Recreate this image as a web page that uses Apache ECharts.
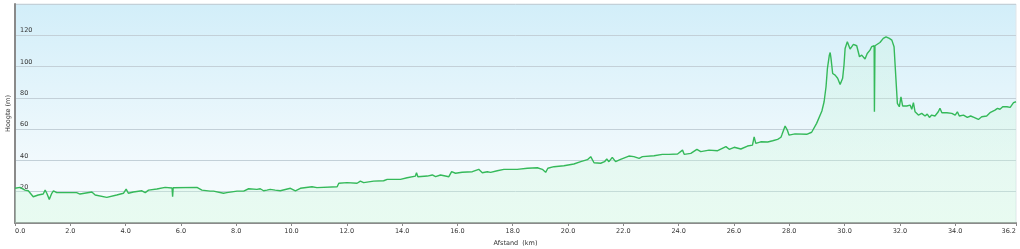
<!DOCTYPE html>
<html>
<head>
<meta charset="utf-8">
<script src="https://cdn.jsdelivr.net/npm/echarts@6/dist/echarts.min.js"></script>
<style>html,body{margin:0;padding:0;background:#fff}#c{width:1020px;height:249px}</style>
</head>
<body>
<div id="c"></div>
<script>
var distanceKm = [0.00,0.18,0.36,0.48,0.54,0.66,0.84,1.02,1.09,1.15,1.24,1.33,1.39,1.51,2.23,2.35,2.78,2.90,3.32,3.68,3.92,4.02,4.10,4.28,4.59,4.71,4.83,5.13,5.43,5.49,5.68,5.70,5.72,6.58,6.76,7.06,7.18,7.54,7.66,8.03,8.27,8.45,8.75,8.87,8.99,9.11,9.23,9.41,9.59,9.96,10.14,10.32,10.74,10.92,11.65,11.71,12.01,12.37,12.49,12.61,12.97,13.33,13.46,13.94,14.18,14.48,14.52,14.57,14.91,15.09,15.21,15.39,15.69,15.79,15.93,16.17,16.54,16.77,16.90,17.08,17.20,17.44,17.68,18.16,18.53,18.89,19.07,19.19,19.27,19.49,19.85,20.21,20.46,20.70,20.82,20.94,21.18,21.32,21.40,21.48,21.60,21.72,21.90,22.20,22.38,22.57,22.69,23.11,23.41,23.65,23.96,24.14,24.20,24.44,24.66,24.80,25.10,25.41,25.71,25.83,26.01,26.25,26.49,26.67,26.73,26.79,26.97,27.22,27.40,27.58,27.70,27.73,27.85,27.93,27.99,28.21,28.63,28.81,28.99,29.18,29.26,29.33,29.38,29.45,29.48,29.51,29.57,29.66,29.75,29.84,29.93,29.98,30.02,30.10,30.15,30.20,30.32,30.44,30.54,30.62,30.74,30.82,30.92,30.98,31.07,31.08,31.10,31.28,31.40,31.50,31.62,31.71,31.79,31.85,31.91,31.98,32.04,32.10,32.25,32.37,32.43,32.49,32.55,32.67,32.79,32.91,32.99,33.07,33.15,33.27,33.39,33.45,33.52,33.70,33.88,34.00,34.08,34.15,34.30,34.44,34.56,34.68,34.84,34.96,35.14,35.26,35.44,35.53,35.62,35.72,35.87,35.99,36.11,36.20];
var elevationM = [22.2,22.8,21.0,20.6,20.0,16.8,17.9,18.5,21.0,19.0,15.1,19.0,20.6,19.4,19.4,18.5,19.8,17.9,16.4,17.9,19.0,21.7,19.0,19.8,20.6,19.4,21.0,21.7,22.8,22.2,22.4,16.8,22.5,22.8,21.0,20.4,20.4,19.0,19.4,20.4,20.4,21.9,21.5,21.9,20.6,21.0,21.5,21.0,20.6,22.2,20.6,22.2,23.2,22.6,23.2,25.4,25.8,25.4,26.8,25.8,26.8,27.0,27.9,27.9,28.9,30.0,32.1,29.6,30.0,30.7,29.6,30.7,29.6,32.8,31.8,32.4,32.8,34.3,32.1,32.8,32.4,33.4,34.3,34.3,35.0,35.3,34.3,32.4,35.0,36.0,36.6,37.7,39.2,40.5,42.4,38.5,38.2,39.2,40.9,39.2,42.0,39.2,40.7,42.8,42.4,41.3,42.4,43.0,43.9,43.9,44.1,46.6,43.9,44.5,47.1,45.6,46.6,46.2,48.8,47.1,48.4,47.3,49.2,49.8,55.1,50.9,51.9,51.8,52.6,53.5,54.8,56.2,62.0,59.4,56.2,57.0,56.7,58.0,63.7,71.6,77.5,87.1,98.8,107.3,109.0,105.2,95.6,94.5,92.5,88.6,92.5,101.0,111.6,115.9,116.9,111.2,114.2,113.3,106.3,107.3,104.8,108.4,110.5,112.7,113.3,71.1,113.3,115.4,118.0,119.0,118.0,116.9,112.7,94.5,76.5,74.3,80.7,74.8,74.8,75.4,72.7,76.9,71.1,69.0,70.1,68.4,69.6,67.5,69.0,68.4,71.1,73.3,70.5,70.5,70.1,69.0,71.1,68.4,69.0,67.5,68.4,67.5,66.2,67.9,68.4,70.5,72.2,73.3,72.7,74.3,74.3,73.9,76.9,77.5];
var xTickValues = [0,2,4,6,8,10,12,14,16,18,20,22,24,26,28,30,32,34,36.2];
var yTickValues = [20,40,60,80,100,120];

var seriesData = distanceKm.map(function (d, i) { return [d, elevationM[i]]; });
var font = 'DejaVu Sans';
var chart = echarts.init(document.getElementById('c'));
chart.setOption({
  animation: false,
  grid: {
    left: 15, right: 4, top: 4, bottom: 26,
    outerBoundsMode: 'none', containLabel: false,
    show: true,
    borderColor: '#dfe6ea', borderWidth: 1,
    backgroundColor: {
      type: 'linear', x: 0, y: 0, x2: 0, y2: 1,
      colorStops: [{ offset: 0, color: '#d2eef9' }, { offset: 0.75, color: '#f3fafd' }, { offset: 1, color: '#f7fcfd' }]
    }
  },
  xAxis: {
    type: 'value', min: 0, max: 36.2,
    name: 'Afstand  (km)', nameLocation: 'middle', nameGap: 17,
    nameTextStyle: { fontFamily: font, fontSize: 6.5, color: '#333' },
    axisLine: { lineStyle: { color: '#8a8a8a', width: 2 } },
    axisTick: { show: true, length: 3, customValues: xTickValues, lineStyle: { color: '#8a8a8a' } },
    axisLabel: {
      customValues: xTickValues, fontFamily: font, fontSize: 6.5, color: '#333', margin: 5,
      alignMinLabel: 'left', alignMaxLabel: 'right',
      formatter: function (v) { return v.toFixed(1); }
    },
    splitLine: { show: false }
  },
  yAxis: {
    type: 'value', min: 0, max: 140, interval: 20,
    name: 'Hoogte (m)', nameLocation: 'middle', nameGap: 3, nameRotate: 90,
    nameMoveOverlap: false,
    nameTextStyle: { fontFamily: font, fontSize: 6.5, color: '#333' },
    axisLine: { show: true, lineStyle: { color: '#8a8a8a', width: 2 } },
    axisTick: { show: false },
    axisLabel: {
      inside: true, customValues: yTickValues, fontFamily: font, fontSize: 6.5, color: '#333',
      margin: 5, verticalAlign: 'bottom', padding: [0, 0, 1, 0]
    },
    splitLine: { lineStyle: { color: '#c3d0d8', width: 1 } }
  },
  series: [{
    type: 'line', data: seriesData, symbol: 'none', smooth: false,
    lineStyle: { color: '#35b95a', width: 1.4 },
    areaStyle: {
      color: {
        type: 'linear', x: 0, y: 0, x2: 0, y2: 1,
        colorStops: [{ offset: 0, color: 'rgba(200,245,215,0.35)' }, { offset: 1, color: 'rgba(200,248,215,0.45)' }]
      }
    }
  }]
});
</script>
</body>
</html>
